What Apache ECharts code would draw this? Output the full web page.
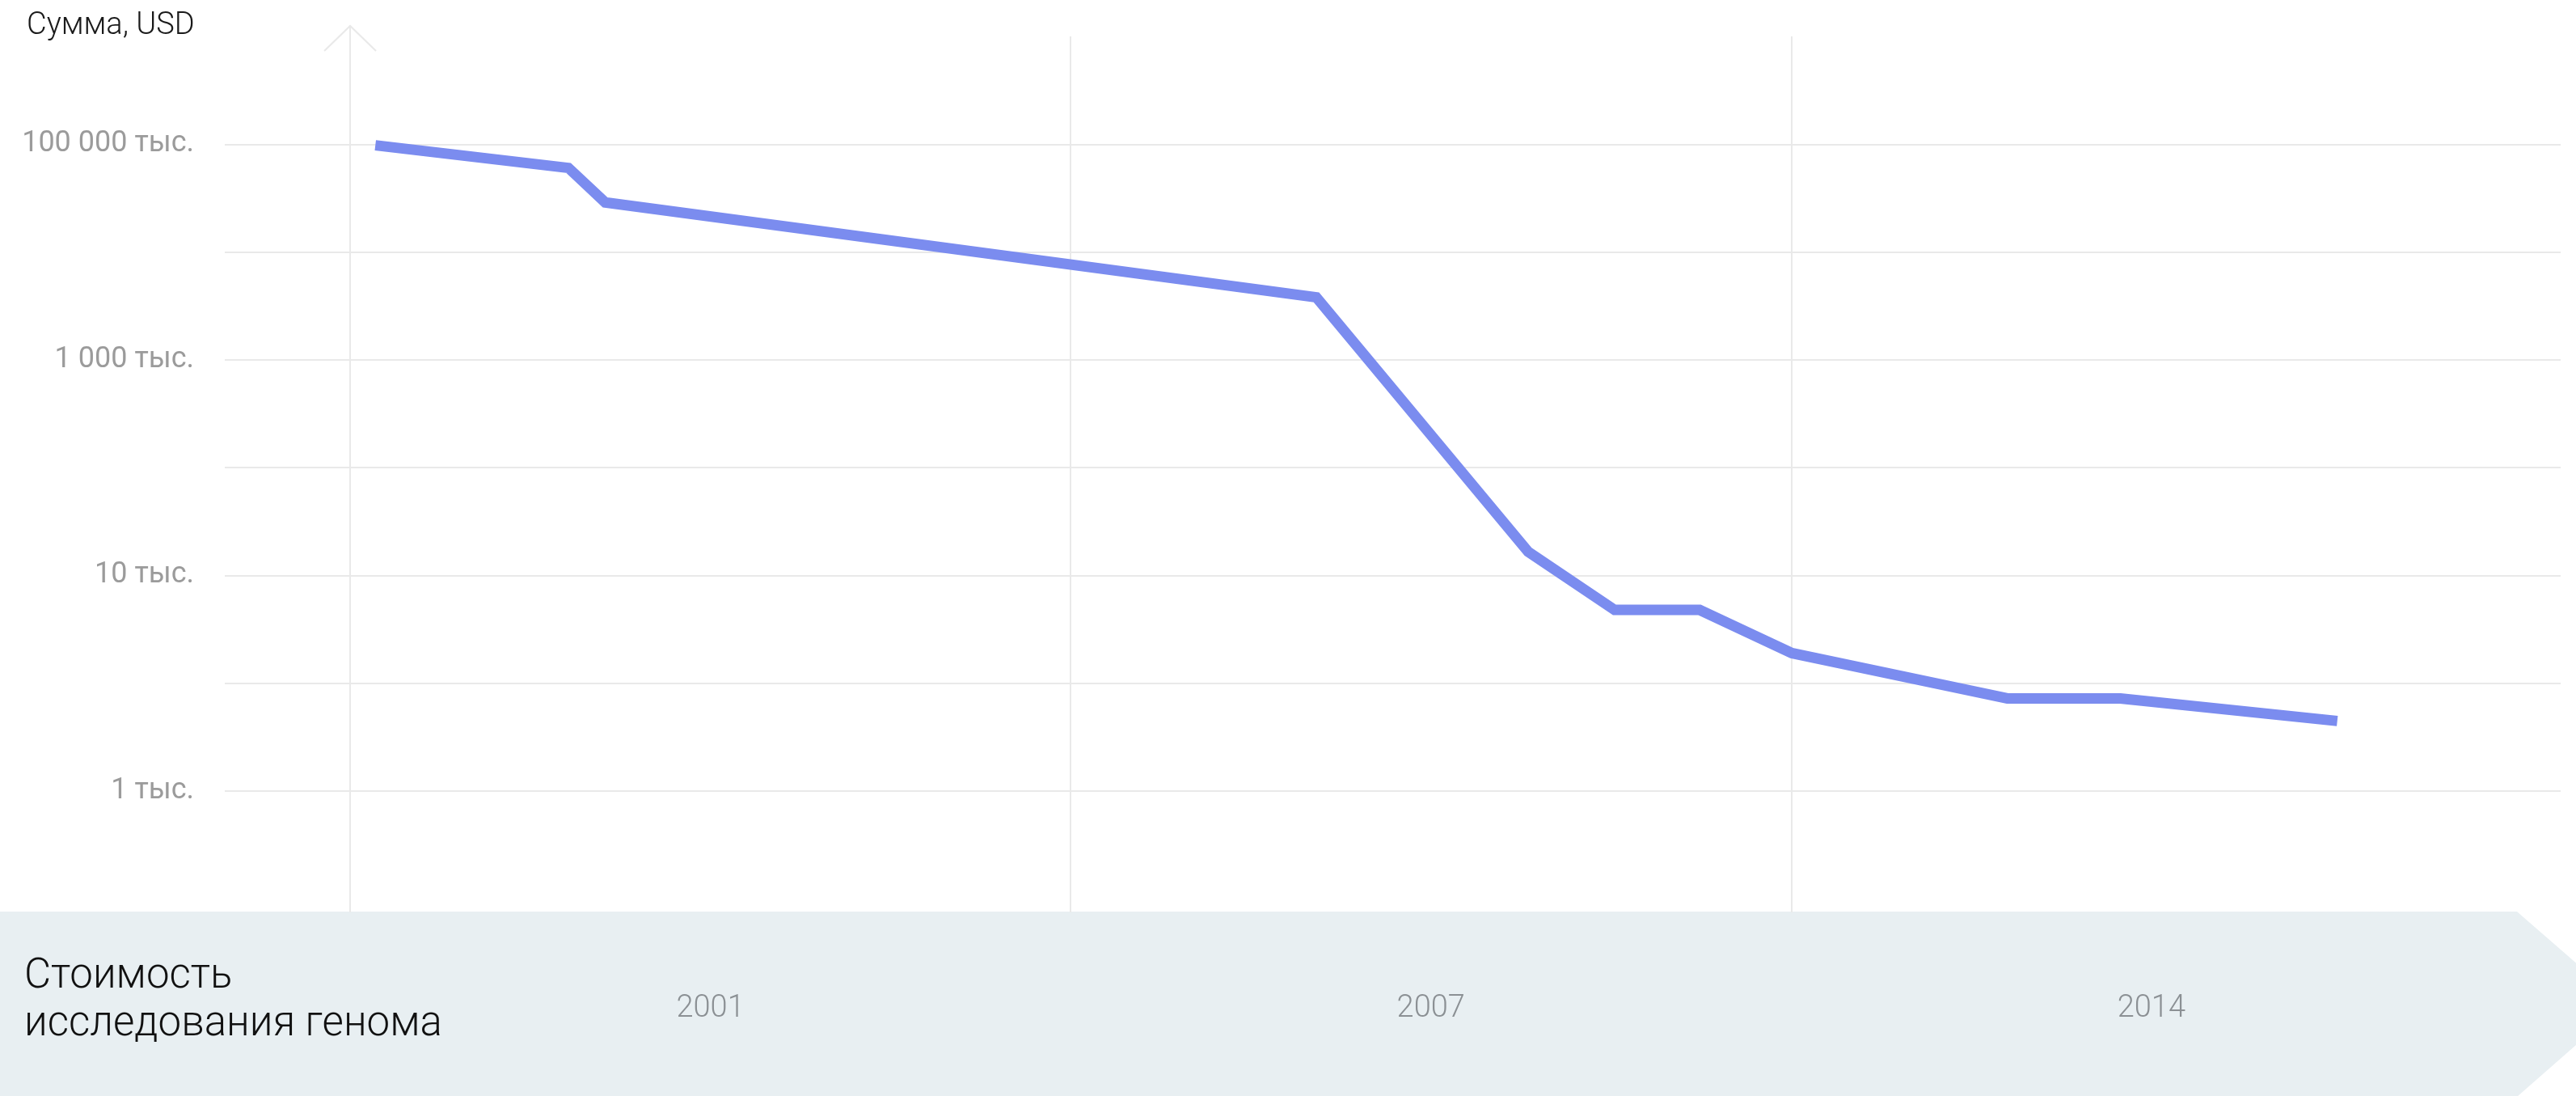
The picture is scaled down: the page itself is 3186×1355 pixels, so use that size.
<!DOCTYPE html>
<html>
<head>
<meta charset="utf-8">
<script src="https://cdn.jsdelivr.net/npm/echarts@6/dist/echarts.min.js"></script>
<style>
  html, body { margin: 0; padding: 0; background: #fff; }
  #container { width: 3186px; height: 1355px; }
</style>
</head>
<body>
<div id="container"></div>
<script>
// Scale levels: every gridline is one step, labels only on some of them
const gridLevels = [0, 1, 2, 3, 4, 5, 6];
const yTickLevels = [0, 2, 4, 6];
const yTickLabels = ['1 тыс.', '10 тыс.', '1 000 тыс.', '100 000 тыс.'];

// Periods on the x axis (one band each, label in the middle)
const periods = ['2001', '2007', '2014'];
const periodEdges = [0, 1, 2];
const periodMiddles = [0.5, 1.5, 2.5];

// Cost curve (x in periods, y in scale levels)
const costX = [0.035, 0.303, 0.354, 1.341, 1.635, 1.755, 1.873, 2.001, 2.300, 2.457, 2.758];
const costY = [5.99, 5.78, 5.46, 4.58, 2.22, 1.68, 1.68, 1.28, 0.86, 0.86, 0.65];

const FONT = 'Roboto';
const gridColor = '#e9e9e9';

let dom = document.getElementById('container');
let chart = echarts.init(dom, null, { renderer: 'canvas' });

chart.setOption({
    animation: false,
    backgroundColor: '#fff',
    title: {
        text: 'Сумма, USD',
        left: 28,
        top: 8,
        textStyle: { fontFamily: FONT, fontSize: 38, fontWeight: 300, color: '#1a1a1a' }
    },
    grid: {
        left: 278,
        right: 19,
        top: 45,
        bottom: 227,
        outerBoundsMode: 'none'
    },
    xAxis: {
        type: 'value',
        min: -0.174,
        max: 3.068,
        axisLine: { show: false },
        axisTick: { show: false, customValues: periodEdges },
        splitLine: { show: true, lineStyle: { color: gridColor, width: 2 } },
        axisLabel: {
            customValues: periodMiddles,
            formatter: (v) => periods[Math.floor(v)],
            margin: 119,
            verticalAlign: 'middle',
            fontFamily: FONT,
            fontSize: 38,
            fontWeight: 300,
            color: '#8b9094'
        }
    },
    yAxis: {
        type: 'value',
        min: -1.125,
        max: 7,
        axisLine: { show: false },
        axisTick: { show: false, customValues: gridLevels },
        splitLine: { show: true, lineStyle: { color: gridColor, width: 2 } },
        axisLabel: {
            customValues: yTickLevels,
            formatter: (v) => yTickLabels[yTickLevels.indexOf(v)],
            margin: 38,
            fontFamily: FONT,
            fontSize: 36,
            color: '#9b9b9b'
        }
    },
    series: [{
        type: 'line',
        data: costX.map((x, i) => [x, costY[i]]),
        showSymbol: false,
        silent: true,
        lineStyle: { color: '#7b8cef', width: 13, cap: 'butt', join: 'miter' }
    }]
});

// y axis arrow on the first period edge, and the bottom ribbon
const x0 = chart.convertToPixel({ xAxisIndex: 0 }, 0);
const yTop = chart.convertToPixel({ yAxisIndex: 0 }, 7);
const yBottom = chart.convertToPixel({ yAxisIndex: 0 }, -1.125);

chart.setOption({
    graphic: [
        {
            type: 'polygon',
            z: -1,
            shape: {
                points: [[0, yBottom - 1], [3113, yBottom - 1], [3244, yBottom + 113], [3113, yBottom + 228], [0, yBottom + 228]]
            },
            style: { fill: '#e8eff2' }
        },
        {
            type: 'text',
            z: 1,
            left: 30,
            top: 1179,
            style: {
                text: 'Стоимость\nисследования генома',
                font: '300 51px Roboto',
                lineHeight: 59,
                fill: '#111111'
            }
        },
        {
            type: 'polyline',
            z: 1,
            shape: { points: [[x0, 32], [x0, yTop]] },
            style: { stroke: gridColor, lineWidth: 2, fill: null }
        },
        {
            type: 'polyline',
            z: 1,
            shape: { points: [[x0 - 32, 63], [x0, 32], [x0 + 32, 63]] },
            style: { stroke: gridColor, lineWidth: 2, fill: null }
        }
    ]
});
</script>
</body>
</html>
